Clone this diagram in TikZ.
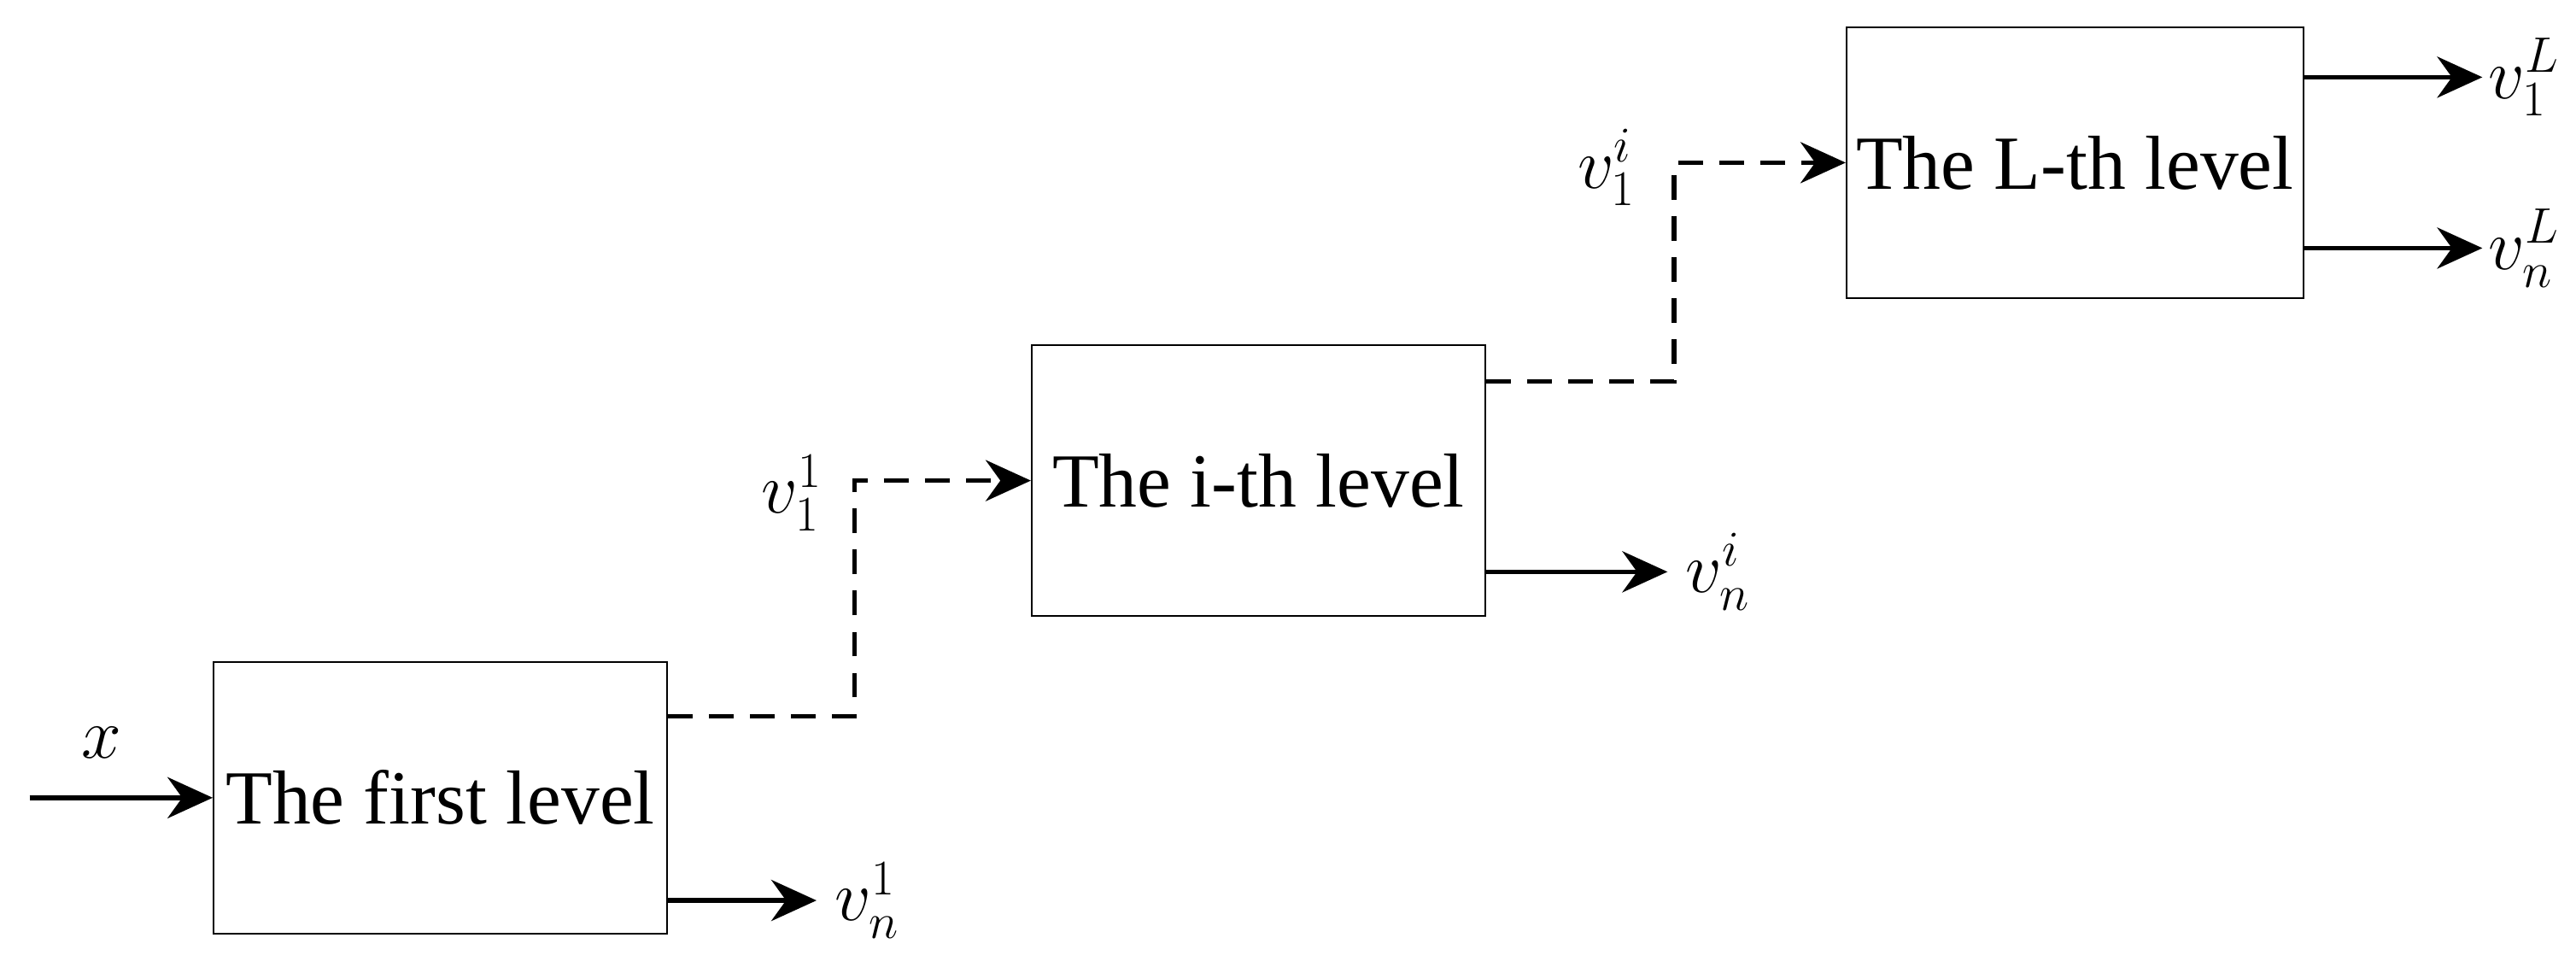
\documentclass[tikz,border=0pt]{standalone}
\usepackage{fontspec}
\setmainfont{Liberation Serif}
\usetikzlibrary{arrows.meta, positioning}

\begin{document}
\begin{tikzpicture}[
    level/.style={rectangle, draw, line width=0.6pt, minimum width=5.52cm, minimum height=3.3cm, align=center, font=\fontsize{26.5}{30}\selectfont},
    outarrow/.style={-{Stealth[length=0.55cm, width=0.5cm]}, line width=1.6pt},
    link/.style={outarrow, dash pattern=on 0.3cm off 0.2cm},
    lab/.style={font=\fontsize{26}{30}\selectfont}
]
\useasboundingbox (0,0) rectangle (31.36,11.84);

\node[level] (first) at (5.36,2.13) {The first level};
\node[level] (ith) at (15.32,5.99) {The i-th level};
\node[level] (Lth) at (25.26,9.86) {The L-th level};

% input
\coordinate (xin) at (0.36,2.13);
\draw[outarrow] (xin) -- (first.west);
\node[lab] (xlab) at (1.24,2.8) {$x$};

% first level outputs
\coordinate (o1) at (9.94,0.88);
\draw[outarrow] (first.east |- o1) -- (o1);
\node[lab, right=0.1cm of o1] (vn1) {$v_n^1$};
\coordinate (d1) at (10.4,3.12);
\draw[link] (first.east |- d1) -- (d1) |- (ith.west);
\node[lab] (v11) at (9.64,5.84) {$v_1^1$};

% i-th level outputs
\coordinate (o2) at (20.3,4.88);
\draw[outarrow] (ith.east |- o2) -- (o2);
\node[lab, right=0.1cm of o2] (vni) {$v_n^i$};
\coordinate (d2) at (20.38,7.2);
\draw[link] (ith.east |- d2) -- (d2) |- (Lth.west);
\node[lab] (v1i) at (19.56,9.8) {$v_1^i$};

% L-th level outputs
\coordinate (o3) at (30.22,10.9);
\coordinate (o4) at (30.22,8.82);
\draw[outarrow] (Lth.east |- o3) -- (o3);
\draw[outarrow] (Lth.east |- o4) -- (o4);
\node[lab, right=-0.05cm of o3] (v1L) {$v_1^L$};
\node[lab, right=-0.05cm of o4] (vnL) {$v_n^L$};

\end{tikzpicture}
\end{document}
